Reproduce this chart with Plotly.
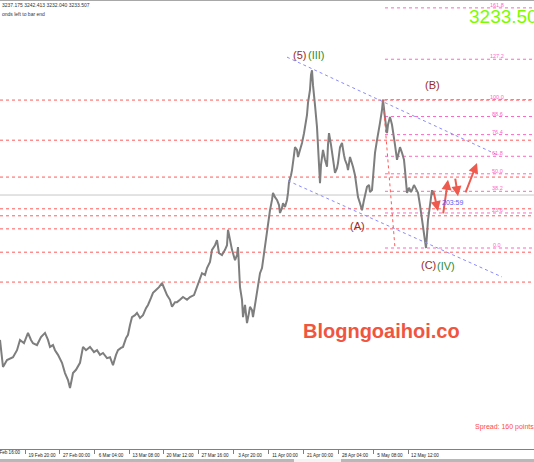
import plotly.graph_objects as go

# ---------------- data (H4 bars, index ~ bar position) ----------------
bar_idx = [0,3,7,13,17,20,24,28,31,33,37,41,45,48,50,53,55,58,62,65,68,70,72,73,76,80,83,86,90,94,
           97,100,103,107,110,113,116,118,121,123,126,128,130,132,135,137,140,143,146,148,151,153,156,159,162,164,167,170,172,175,
           177,180,183,187,190,194,197,200,202,205,207,210,212,215,217,219,222,225,227,228,230,232,235,237,238,239,240,242,243,245,
           247,249,250,252,253,255,257,259,260,262,263,265,267,268,270,272,273,275,277,279,280,282,283,285,287,288,289,291,292,294,
           295,297,298,300,302,304,305,307,308,310,311,312,313,314,315,317,318,319,320,321,323,325,327,328,329,331,332,334,335,337,
           338,340,342,344,345,347,348,350,351,353,355,357,358,360,362,364,366,367,369,370,372,373,375,377,378,380,382,383,385,387,
           388,390,392,393,395,397,399,400,402,404,405,406,407,409,411,412,414,415,417,418,420,422,424,425,426,427,428,430,432,433]
price = [2923,2865,2880,2886,2901,2923,2916,2938,2923,2916,2912,2929,2938,2923,2908,2912,2901,2891,2874,2852,2837,2820,2841,2852,2859,2874,2908,2901,2908,2897,
         2901,2891,2895,2884,2886,2869,2891,2901,2906,2908,2927,2934,2955,2972,2976,2981,2970,2976,2991,2998,3013,3024,3030,3036,3045,3034,3019,3009,2994,3004,
         3004,3009,3015,3009,3015,3019,3036,3051,3066,3062,3077,3090,3116,3126,3137,3109,3105,3116,3126,3159,3137,3116,3094,3105,3122,3090,3036,3009,2972,2998,
         2959,2981,2994,2987,2972,2998,3024,3051,3066,3077,3094,3116,3152,3169,3201,3223,3238,3229,3223,3212,3195,3206,3216,3208,3223,3238,3261,3276,3287,3319,
         3336,3330,3315,3330,3345,3366,3379,3405,3431,3459,3491,3501,3469,3452,3426,3379,3330,3298,3259,3298,3330,3309,3294,3341,3366,3341,3324,3298,3281,3291,
         3302,3336,3345,3319,3309,3298,3287,3315,3309,3294,3276,3244,3229,3216,3201,3223,3244,3251,3255,3240,3244,3276,3324,3351,3362,3388,3416,3438,3399,3366,
         3384,3401,3384,3366,3341,3309,3326,3336,3324,3309,3287,3261,3238,3249,3240,3244,3255,3251,3244,3238,3212,3180,3159,3137,3120,3148,3180,3212,3244,3233.5]

tick_bars = [-10, 25, 59.5, 94, 129, 163, 198, 233, 268, 303, 338, 373, 408]
tick_labels = ["12 Feb 16:00", "19 Feb 20:00", "27 Feb 00:00", "6 Mar 04:00", "13 Mar 08:00", "20 Mar 12:00",
               "27 Mar 16:00", "3 Apr 20:00", "11 Apr 00:00", "21 Apr 00:00", "28 Apr 04:00", "5 May 08:00", "12 May 12:00"]

ohlc_now = ["3237.175", "3242.413", "3232.040", "3233.507"]
current_price = 3233.507
big_price_text = "3233.50"
spread_points = 160
timer_text = "203:59"

fib_low, fib_high = 3120.0, 3438.0
fib_levels = [0.0, 23.6, 38.2, 50.0, 61.8, 76.4, 88.6, 100.0, 127.2, 161.8]
fib_start_bar = 385
fib_anchor_bars = [383, 395]

sr_levels = [3437, 3351, 3272, 3204, 3189, 3161, 3111, 3047]

chan_upper_bars, chan_upper_prices = [287, 498], [3529, 3319]
chan_lower_bars, chan_lower_prices = [288, 502], [3264, 3058]

wave_text = ["(5)", "(III)", "(B)", "(A)", "(C)", "(IV)"]
wave_bars = [299, 316, 432, 357, 428, 446]
wave_prices = [3534, 3534, 3469, 3167, 3084, 3082]
wave_kind = ["minor", "major", "minor", "minor", "minor", "major"]

scenario_tail_bars = [433, 443, 455, 465]
scenario_tail_prices = [3246, 3191, 3272, 3236]
scenario_head_bars = [438, 448, 458, 477]
scenario_head_prices = [3199, 3266, 3231, 3302]

# ---------------- figure ----------------
W, H = 534, 462
MT, MB = 0, 13
plot_h = H - MT - MB
px_per_usd = 147 / 315.0
y_top = fib_low + 248 / px_per_usd
y_bot = fib_low - (plot_h - 248) / px_per_usd


def py(px_from_top):
    """pixel row (from top of figure) -> paper y"""
    return (plot_h - px_from_top) / plot_h


RED = "#FF5A5A"
PINK = "#FF66C4"
BLUE = "#8A8AFF"
TICK_FONT = 4.6

fig = go.Figure()

shapes = []
for lv in sr_levels:
    shapes.append(dict(type="line", xref="paper", x0=0, x1=1, yref="y", y0=lv, y1=lv,
                       line=dict(color=RED, width=1, dash="dot"), layer="below"))
shapes.append(dict(type="line", xref="paper", x0=0, x1=1, yref="y", y0=current_price, y1=current_price,
                   line=dict(color="#C8C8C8", width=1), layer="below"))
rng = fib_high - fib_low
for f in fib_levels:
    lv = fib_low + f / 100.0 * rng
    shapes.append(dict(type="line", xref="x", x0=fib_start_bar, x1=W, yref="y", y0=lv, y1=lv,
                       line=dict(color=PINK, width=1, dash="dot"), layer="below"))
shapes.append(dict(type="line", xref="x", yref="y", x0=fib_anchor_bars[0], y0=fib_high,
                   x1=fib_anchor_bars[1], y1=fib_low, line=dict(color=RED, width=1, dash="dot")))
shapes.append(dict(type="line", xref="x", yref="y", x0=chan_upper_bars[0], y0=chan_upper_prices[0],
                   x1=chan_upper_bars[1], y1=chan_upper_prices[1], line=dict(color=BLUE, width=1, dash="dot")))
shapes.append(dict(type="line", xref="x", yref="y", x0=chan_lower_bars[0], y0=chan_lower_prices[0],
                   x1=chan_lower_bars[1], y1=chan_lower_prices[1], line=dict(color=BLUE, width=1, dash="dot")))
shapes.append(dict(type="line", xref="paper", yref="paper", x0=0, x1=1, y0=1, y1=1,
                   line=dict(color="#A8A8A8", width=2)))
shapes.append(dict(type="rect", xref="paper", yref="paper", x0=0, x1=1, y0=py(462), y1=py(459),
                   fillcolor="#B8B8B8", line=dict(width=0)))
shapes.append(dict(type="rect", xref="paper", yref="paper", x0=294 / W, x1=341 / W, y0=py(462), y1=py(459),
                   fillcolor="#F4F4F4", line=dict(width=0)))

fig.add_trace(go.Scatter(x=bar_idx, y=price, mode="lines",
                         line=dict(color="#7E7E7E", width=2), hoverinfo="skip", showlegend=False))

ann = []
for f in fib_levels:
    lv = fib_low + f / 100.0 * rng
    ann.append(dict(x=497, y=lv, xref="x", yref="y", text=f"{f:.1f}", showarrow=False,
                    xanchor="center", yanchor="bottom", yshift=-2,
                    font=dict(size=5.5, color=PINK)))
for t, b, p, k in zip(wave_text, wave_bars, wave_prices, wave_kind):
    ann.append(dict(x=b, y=p, xref="x", yref="y", text=t, showarrow=False,
                    font=dict(size=11, color="#9B2A2A" if k == "minor" else "#2E8B2E")))
for tb, tp, hb, hp in zip(scenario_tail_bars, scenario_tail_prices, scenario_head_bars, scenario_head_prices):
    ann.append(dict(x=hb, y=hp, ax=tb, ay=tp, xref="x", yref="y", axref="x", ayref="y", text="",
                    showarrow=True, arrowhead=2, arrowsize=1, arrowwidth=2, arrowcolor="#EE5A4E"))
ann.append(dict(x=440, y=3218, xref="x", yref="y", text=timer_text, showarrow=False, xanchor="left",
                font=dict(size=7, color="#5A5AF0")))
ann.append(dict(x=0, y=py(5), xref="paper", yref="paper", text=" ".join(ohlc_now),
                showarrow=False, xanchor="left", yanchor="middle", font=dict(size=5, color="#333333")))
ann.append(dict(x=0, y=py(13.5), xref="paper", yref="paper", text="onds left to bar end",
                showarrow=False, xanchor="left", yanchor="middle", font=dict(size=5, color="#333333")))
ann.append(dict(x=467 / W, y=py(16), xref="paper", yref="paper", text=big_price_text,
                showarrow=False, xanchor="left", yanchor="middle",
                font=dict(size=19, color="#7CFC00", family="Liberation Sans, Arial")))
ann.append(dict(x=473 / W, y=py(427), xref="paper", yref="paper",
                text=f"Spread: {spread_points} points", showarrow=False, xanchor="left", yanchor="middle",
                font=dict(size=7, color="#FF4A4A")))
ann.append(dict(x=301 / W, y=py(331), xref="paper", yref="paper", text="<b>Blogngoaihoi.co</b>",
                showarrow=False, xanchor="left", yanchor="middle",
                font=dict(size=20, color="#F0553F", family="Liberation Sans, Arial")))
ann.append(dict(x=(tick_bars[0] + 1) / W, y=py(452.5), xref="paper", yref="paper",
                text=tick_labels[0], showarrow=False, xanchor="left", yanchor="middle",
                font=dict(size=TICK_FONT, color="#222222")))

fig.update_layout(
    width=W, height=H,
    margin=dict(l=0, r=0, t=MT, b=MB, pad=0, autoexpand=False),
    paper_bgcolor="white", plot_bgcolor="white",
    font=dict(family="Liberation Sans, Arial", color="#222222"),
    showlegend=False,
    shapes=shapes, annotations=ann,
    xaxis=dict(range=[0, W], showgrid=False, zeroline=False, showline=True, linecolor="#808080", linewidth=1,
               ticks="outside", ticklen=4, tickcolor="#808080", tickvals=tick_bars[1:], ticktext=tick_labels[1:],
               tickfont=dict(size=TICK_FONT, color="#222222"), tickangle=0, ticklabelshift=17,
               ticklabelstandoff=-3, automargin=False, fixedrange=True),
    yaxis=dict(range=[y_bot, y_top], visible=False, fixedrange=True, automargin=False),
)

fig.write_html("out.html", config={"displayModeBar": False},
               post_script="document.body.style.margin='0px';document.body.style.overflow='hidden';")
